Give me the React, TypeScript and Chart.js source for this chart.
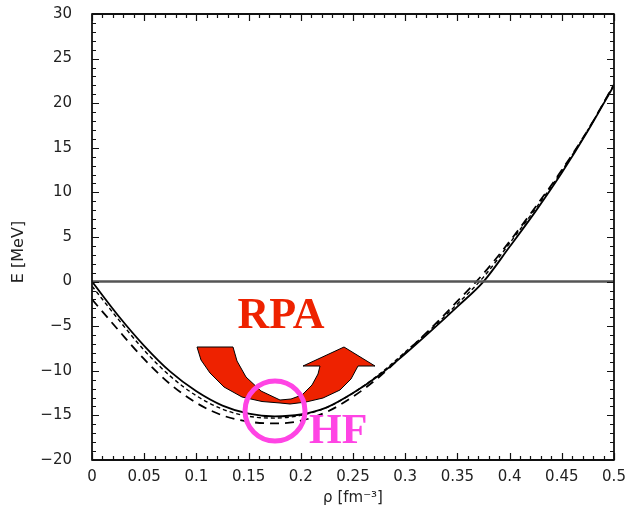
import React, { useEffect, useRef } from "react";
import { Chart, registerables } from "chart.js";

Chart.register(...registerables);

// density grid (fm^-3)
const RHO = [0, 0.025, 0.05, 0.075, 0.1, 0.125, 0.15, 0.175, 0.2, 0.225, 0.25, 0.275, 0.3, 0.325, 0.35, 0.375, 0.4, 0.425, 0.45, 0.475, 0.5];
// solid curve (MeV)
const E_SOLID = [0, -3.8, -7.2, -10.1, -12.3, -13.9, -14.8, -15.1, -14.9, -14.1, -12.5, -10.5, -8.1, -5.5, -2.8, 0.0, 3.9, 7.9, 12.2, 16.9, 22.0];
// fine-dashed curve (MeV), close to the solid one
const E_FINE = [-0.5, -4.2, -7.7, -10.6, -12.8, -14.3, -15.1, -15.3, -15.0, -14.1, -12.5, -10.4, -7.9, -5.3, -2.5, 0.5, 4.3, 8.2, 12.4, 17.0, 22.1];
// dashed curve (MeV)
const E_DASH = [-2.0, -5.4, -8.7, -11.5, -13.6, -15.0, -15.7, -15.9, -15.6, -14.6, -12.9, -10.7, -8.0, -5.2, -2.2, 0.9, 4.5, 8.4, 12.5, 17.0, 22.1];
// horizontal zero reference
const ZERO_X = [0, 0.5];
const ZERO_Y = [0, 0];

const X_MIN = 0, X_MAX = 0.5, X_STEP = 0.05, X_MINOR = 0.01;
const Y_MIN = -20, Y_MAX = 30, Y_STEP = 5, Y_MINOR = 1;

const RED = "#ee2200";
const MAGENTA = "#ff44e4";

// annotation geometry, page pixels (chart area origin at 92,14)
const ORIGIN = [92, 14];
const ARROW: [number, number][] = [
  [197, 347], [233, 347], [237, 361], [246, 377], [261, 391], [280, 400],
  [291, 399], [302, 395], [312, 385], [318, 374], [320, 366], [303, 366], [344, 347],
  [375, 366], [358, 366], [351, 379], [340, 390], [323, 398], [306, 402],
  [290, 404], [280, 403], [262, 401.5], [242, 397], [224, 387], [210, 373], [201, 360],
];
const CIRCLE = { x: 275, y: 411, r: 30 };
const RPA_POS = { x: 281, y: 328 };
const HF_POS = { x: 309, y: 443 };

const fmtMinus = (v: number) => {
  const s = String(Number(v.toFixed(2)));
  return s.replace("-", "\u2212");
};

const decor = {
  id: "decor",
  afterDatasetsDraw(chart: any) {
    const ctx = chart.ctx;
    const ca = chart.chartArea;
    const xs = chart.scales.x;
    const ys = chart.scales.y;
    const px = (x: number) => ca.left + (x - ORIGIN[0]);
    const py = (y: number) => ca.top + (y - ORIGIN[1]);
    ctx.save();

    // arrow
    ctx.beginPath();
    ARROW.forEach(([x, y], i) => (i === 0 ? ctx.moveTo(px(x), py(y)) : ctx.lineTo(px(x), py(y))));
    ctx.closePath();
    ctx.fillStyle = RED;
    ctx.fill();
    ctx.lineWidth = 1;
    ctx.strokeStyle = "#000";
    ctx.lineJoin = "round";
    ctx.stroke();

    // circle
    ctx.beginPath();
    ctx.arc(px(CIRCLE.x), py(CIRCLE.y), CIRCLE.r, 0, Math.PI * 2);
    ctx.strokeStyle = MAGENTA;
    ctx.lineWidth = 5;
    ctx.stroke();

    // texts
    ctx.fillStyle = RED;
    ctx.font = 'bold 44px "Liberation Serif", "DejaVu Serif", serif';
    ctx.textAlign = "center";
    ctx.textBaseline = "alphabetic";
    ctx.fillText("RPA", px(RPA_POS.x), py(RPA_POS.y));
    ctx.fillStyle = MAGENTA;
    ctx.font = 'bold 42px "Liberation Serif", "DejaVu Serif", serif';
    ctx.textAlign = "left";
    ctx.fillText("HF", px(HF_POS.x), py(HF_POS.y));

    // frame
    ctx.strokeStyle = "#111";
    ctx.lineWidth = 1.8;
    ctx.strokeRect(ca.left, ca.top, ca.right - ca.left, ca.bottom - ca.top);

    // inward ticks
    ctx.lineWidth = 1.2;
    ctx.beginPath();
    const nx = Math.round((X_MAX - X_MIN) / X_MINOR);
    for (let i = 0; i <= nx; i++) {
      const v = X_MIN + i * X_MINOR;
      const major = i % Math.round(X_STEP / X_MINOR) === 0;
      const len = major ? 7 : 4;
      const x = Math.round(xs.getPixelForValue(v)) + 0.5;
      ctx.moveTo(x, ca.bottom);
      ctx.lineTo(x, ca.bottom - len);
      ctx.moveTo(x, ca.top);
      ctx.lineTo(x, ca.top + len);
    }
    const ny = Math.round((Y_MAX - Y_MIN) / Y_MINOR);
    for (let i = 0; i <= ny; i++) {
      const v = Y_MIN + i * Y_MINOR;
      const major = i % Math.round(Y_STEP / Y_MINOR) === 0;
      const len = major ? 7 : 4;
      const y = Math.round(ys.getPixelForValue(v)) + 0.5;
      ctx.moveTo(ca.left, y);
      ctx.lineTo(ca.left + len, y);
      ctx.moveTo(ca.right, y);
      ctx.lineTo(ca.right - len, y);
    }
    ctx.stroke();

    // axis titles
    ctx.fillStyle = "#222";
    ctx.font = '15px "DejaVu Sans", sans-serif';
    ctx.textAlign = "center";
    ctx.textBaseline = "middle";
    ctx.fillText("\u03c1 [fm\u207b\u00b3]", (ca.left + ca.right) / 2, ca.bottom + 38);
    ctx.save();
    ctx.font = '16px "DejaVu Sans", sans-serif';
    ctx.translate(19, ca.top + 252 - ORIGIN[1]);
    ctx.rotate(-Math.PI / 2);
    ctx.fillText("E [MeV]", 0, 0);
    ctx.restore();

    ctx.restore();
  },
};

export default function App() {
  const ref = useRef<HTMLCanvasElement | null>(null);
  useEffect(() => {
    if (!ref.current) return;
    const mk = (ys: number[]) => RHO.map((x, i) => ({ x, y: ys[i] }));
    const chart = new Chart(ref.current, {
      type: "line",
      data: {
        datasets: [
          {
            data: ZERO_X.map((x, i) => ({ x, y: ZERO_Y[i] })),
            borderColor: "#555",
            borderWidth: 2.5,
            pointRadius: 0,
          },
          {
            data: mk(E_DASH),
            borderColor: "#000",
            borderWidth: 1.8,
            borderDash: [9, 6],
            pointRadius: 0,
            cubicInterpolationMode: "monotone",
          },
          {
            data: mk(E_FINE),
            borderColor: "#000",
            borderWidth: 1.4,
            borderDash: [4, 3],
            pointRadius: 0,
            cubicInterpolationMode: "monotone",
          },
          {
            data: mk(E_SOLID),
            borderColor: "#000",
            borderWidth: 1.8,
            pointRadius: 0,
            cubicInterpolationMode: "monotone",
          },
        ],
      },
      options: {
        animation: false,
        responsive: false,
        devicePixelRatio: 1,
        layout: { padding: { top: 14, right: 16, left: 0, bottom: 0 } },
        plugins: { legend: { display: false }, tooltip: { enabled: false } },
        scales: {
          x: {
            type: "linear",
            min: X_MIN,
            max: X_MAX,
            grid: { display: false },
            border: { display: false },
            ticks: {
              stepSize: X_STEP,
              autoSkip: false,
              maxRotation: 0,
              padding: 0,
              color: "#222",
              font: { family: '"DejaVu Sans", sans-serif', size: 15 },
              callback: (v: any) => fmtMinus(Number(v)),
            },
            afterFit: (s: any) => {
              s.height = 55;
              s.paddingLeft = 0;
              s.paddingRight = 0;
            },
          },
          y: {
            type: "linear",
            min: Y_MIN,
            max: Y_MAX,
            grid: { display: false },
            border: { display: false },
            ticks: {
              stepSize: Y_STEP,
              autoSkip: false,
              padding: 12,
              color: "#222",
              font: { family: '"DejaVu Sans", sans-serif', size: 15 },
              callback: (v: any) => fmtMinus(Number(v)),
            },
            afterFit: (s: any) => {
              s.width = 92;
              s.paddingTop = 0;
              s.paddingBottom = 0;
            },
          },
        },
      },
      plugins: [decor],
    });
    return () => chart.destroy();
  }, []);
  return (
    <div style={{ position: "absolute", left: 0, top: 0, width: 630, height: 515, background: "#fff" }}>
      <canvas ref={ref} width={630} height={515} />
    </div>
  );
}
